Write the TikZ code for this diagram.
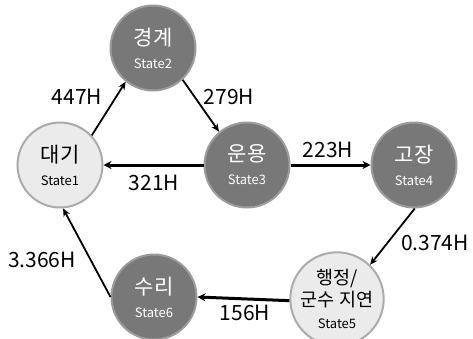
\documentclass[tikz,border=0pt]{standalone}
\usepackage{fontspec}
\setmainfont{Noto Sans CJK KR}
\usetikzlibrary{arrows.meta}
\definecolor{darkfill}{HTML}{787878}
\definecolor{darkborder}{HTML}{9C9C9C}
\definecolor{lightfill}{HTML}{EBEBEB}
\definecolor{lightborder}{HTML}{ABABAB}
\tikzset{
  statebase/.style={circle, minimum size=85pt, inner sep=0pt, line width=2pt, align=center, font=\fontsize{21}{23}\selectfont},
  darkstate/.style={statebase, fill=darkfill, draw=darkborder, text=white},
  lightstate/.style={statebase, fill=lightfill, draw=lightborder, text=black},
  thinarrow/.style={-{Stealth[length=8pt,width=7pt]}, line width=1.8pt, black},
  thickarrow/.style={-{Stealth[length=8pt,width=8pt]}, line width=3pt, black},
  lbl/.style={font=\fontsize{21}{23}\selectfont, text=black, inner sep=0pt}
}
\newcommand{\stl}[1]{{\fontsize{13}{14}\selectfont #1}}
\begin{document}
\begin{tikzpicture}[x=1pt,y=-1pt]
\useasboundingbox (0,0) rectangle (473,338);
\node[lightstate] (s1) at (60,165) {대기\\\stl{State1}};
\node[darkstate] (s2) at (153,48) {경계\\\stl{State2}};
\node[darkstate] (s3) at (247,165) {운용\\\stl{State3}};
\node[darkstate] (s4) at (414,165) {고장\\\stl{State4}};
\node[lightstate, font=\fontsize{18.5}{22}\selectfont] (s5) at (337,299) {행정/\\군수 지연\\\stl{State5}};
\node[darkstate] (s6) at (154,297) {수리\\\stl{State6}};

\draw[thinarrow] (s1.43) -- (s2.231);
\draw[thinarrow] (s2.313) -- (s3.130);
\draw[thickarrow] (s3.west) -- (s1.east);
\draw[thickarrow] (s3.east) -- (s4.west);
\draw[thinarrow] (s4.271) -- (s5.46);
\draw[thickarrow] (s5.182) -- (s6.east);
\draw[thinarrow] (s6.west) -- (s1.-86);

\node[lbl] (l12) at (77,97) {447H};
\node[lbl] (l23) at (229,97) {279H};
\node[lbl] (l34) at (328,150) {223H};
\node[lbl] (l31) at (154,183) {321H};
\node[lbl] (l45) at (435,243) {0.374H};
\node[lbl] (l61) at (42,260) {3.366H};
\node[lbl] (l56) at (245,313) {156H};
\end{tikzpicture}
\end{document}
